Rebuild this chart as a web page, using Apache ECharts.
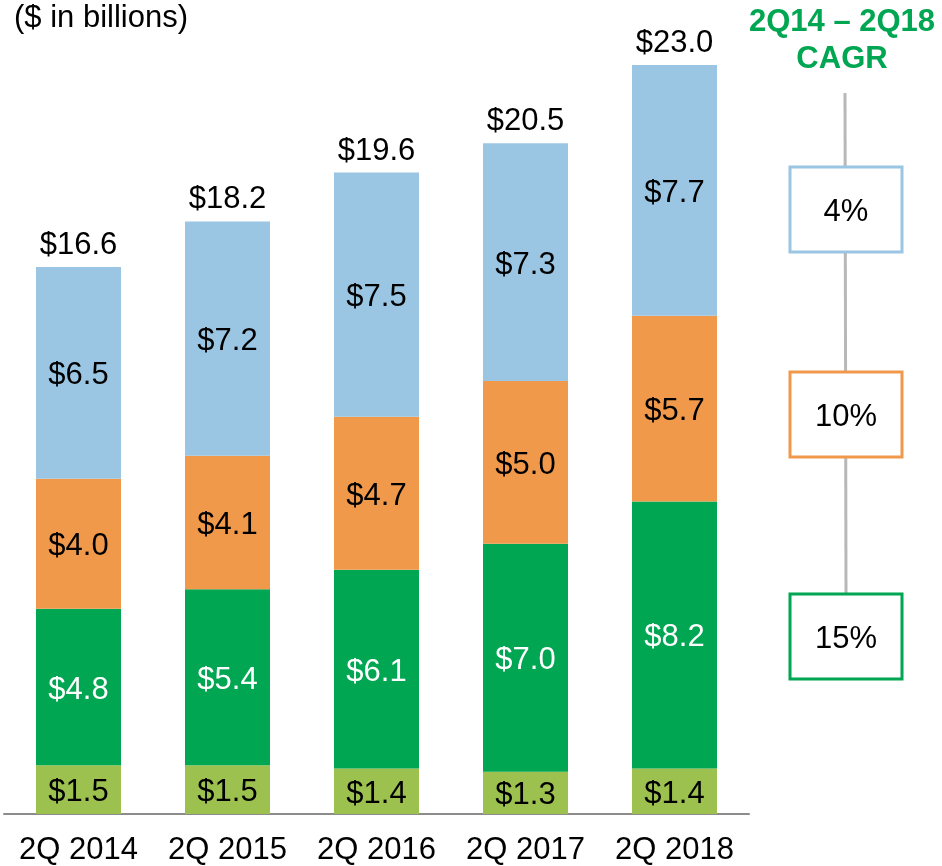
<!DOCTYPE html>
<html>
<head>
<meta charset="UTF-8">
<title>Revenue by segment</title>
<script src="https://cdn.jsdelivr.net/npm/echarts@6/dist/echarts.min.js"></script>
<style>
  html, body { margin: 0; padding: 0; background: #fff; }
  #main { width: 942px; height: 866px; }
</style>
</head>
<body>
<div id="main"></div>
<script>
// data
var categories = ['2Q 2014', '2Q 2015', '2Q 2016', '2Q 2017', '2Q 2018'];
var seg1 = [1.5, 1.5, 1.4, 1.3, 1.4];   // light green (bottom)
var seg2 = [4.8, 5.4, 6.1, 7.0, 8.2];   // green
var seg3 = [4.0, 4.1, 4.7, 5.0, 5.7];   // orange
var seg4 = [6.5, 7.2, 7.5, 7.3, 7.7];   // light blue (top)
var totals = [16.6, 18.2, 19.6, 20.5, 23.0];
var cagrLabels = ['4%', '10%', '15%'];

var FONT = '"Liberation Sans", Arial, sans-serif';
var colors = ['#9dc14f', '#00a651', '#f0994b', '#9ac6e3'];
var cagrColors = ['#9ac6e3', '#f0994b', '#00a651'];
var cagrTops = [167, 372, 594];

var myChart = echarts.init(document.getElementById('main'));

function money(v) { return '$' + v.toFixed(1); }

function segSeries(name, data, color, textColor) {
    return {
        name: name,
        type: 'bar',
        stack: 'total',
        barWidth: 85,
        data: data,
        itemStyle: { color: color },
        label: {
            show: true,
            position: 'inside',
            offset: [0, 3],
            color: textColor,
            fontFamily: FONT,
            fontSize: 31,
            formatter: function (p) { return money(p.value); }
        },
        emphasis: { disabled: true }
    };
}

// stack tops, so the total labels sit right above each bar
var stackTop = categories.map(function (c, i) {
    return seg1[i] + seg2[i] + seg3[i] + seg4[i];
});

// right hand CAGR panel
var graphics = [
    {
        type: 'text', x: 842, y: 22,
        style: { text: '2Q14 \u2013 2Q18', fill: '#00a651', font: 'bold 31px ' + FONT, align: 'center', verticalAlign: 'middle' }
    },
    {
        type: 'text', x: 842, y: 59,
        style: { text: 'CAGR', fill: '#00a651', font: 'bold 31px ' + FONT, align: 'center', verticalAlign: 'middle' }
    },
    {
        type: 'line', z: 1,
        shape: { x1: 845, y1: 93, x2: 846, y2: 594 },
        style: { stroke: '#b8b8b8', lineWidth: 3 }
    }
];
cagrLabels.forEach(function (t, i) {
    graphics.push({
        type: 'rect', z: 2,
        shape: { x: 790, y: cagrTops[i], width: 112, height: 85 },
        style: { fill: '#fff', stroke: cagrColors[i], lineWidth: 3 }
    });
    graphics.push({
        type: 'text', z: 3, x: 846, y: cagrTops[i] + 45,
        style: { text: t, fill: '#000', font: '31px ' + FONT, align: 'center', verticalAlign: 'middle' }
    });
});

var option = {
    animation: false,
    title: {
        text: '($ in billions)',
        left: 9, top: -2,
        textStyle: { fontFamily: FONT, fontSize: 31, fontWeight: 'normal', color: '#000' }
    },
    grid: { left: 4, right: 193, top: 0, bottom: 52, containLabel: false },
    xAxis: {
        type: 'category',
        data: categories,
        axisLine: { lineStyle: { color: '#8c8c8c', width: 2 } },
        axisTick: { show: false },
        axisLabel: { interval: 0, color: '#000', fontFamily: FONT, fontSize: 31, margin: 21 }
    },
    yAxis: {
        type: 'value',
        min: 0, max: 25,
        show: false,
        splitLine: { show: false }
    },
    series: [
        segSeries('Seg1', seg1, colors[0], '#000'),
        segSeries('Seg2', seg2, colors[1], '#fff'),
        segSeries('Seg3', seg3, colors[2], '#000'),
        segSeries('Seg4', seg4, colors[3], '#000'),
        {
            name: 'Total',
            type: 'scatter',
            data: stackTop,
            symbolSize: 0,
            itemStyle: { opacity: 1 },
            label: {
                show: true,
                position: 'top',
                distance: 6,
                color: '#000',
                fontFamily: FONT,
                fontSize: 31,
                formatter: function (p) { return money(totals[p.dataIndex]); }
            },
            emphasis: { disabled: true },
            z: 5
        }
    ],
    graphic: graphics
};

myChart.setOption(option);
</script>
</body>
</html>
